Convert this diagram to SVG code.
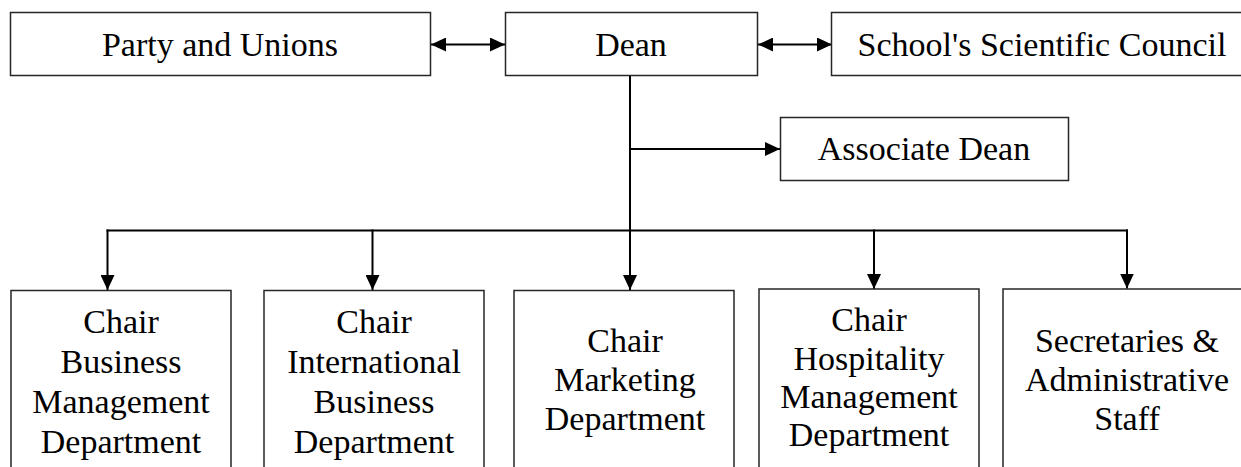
<svg xmlns="http://www.w3.org/2000/svg" width="1241" height="467" viewBox="0 0 1241 467">
  <defs>
    <marker id="ah" markerUnits="userSpaceOnUse" markerWidth="15" markerHeight="14" refX="15" refY="7" orient="auto-start-reverse">
      <path d="M0,0 L15,7 L0,14 z" fill="#000000"/>
    </marker>
  </defs>
  <rect x="0" y="0" width="1241" height="467" fill="#ffffff"/>

  <g id="connectors" fill="none" stroke="#000000" stroke-width="2">
    <line marker-start="url(#ah)" marker-end="url(#ah)" x1="431" y1="44.5" x2="505" y2="44.5"/>
    <line marker-start="url(#ah)" marker-end="url(#ah)" x1="758" y1="44.5" x2="832" y2="44.5"/>
    <line x1="630" y1="76" x2="630" y2="230.5"/>
    <line marker-end="url(#ah)" x1="630" y1="149" x2="780" y2="149"/>
    <line x1="106.5" y1="230.5" x2="1128" y2="230.5"/>
    <line marker-end="url(#ah)" x1="107.5" y1="229.5" x2="107.5" y2="290"/>
    <line marker-end="url(#ah)" x1="372.5" y1="229.5" x2="372.5" y2="290"/>
    <line marker-end="url(#ah)" x1="630" y1="229.5" x2="630" y2="290"/>
    <line marker-end="url(#ah)" x1="874" y1="229.5" x2="874" y2="289"/>
    <line marker-end="url(#ah)" x1="1127" y1="229.5" x2="1127" y2="288.5"/>
  </g>

  <g id="nodes" font-family="Times New Roman, Liberation Serif, serif" font-size="34" text-anchor="middle" fill="#000000">
  <g id="party">
    <rect fill="#ffffff" stroke="#262626" stroke-width="1.5" x="10.5" y="12.5" width="420" height="63"/>
    <text x="220" y="56">Party and Unions</text>
  </g>
  <g id="dean">
    <rect fill="#ffffff" stroke="#262626" stroke-width="1.5" x="505.5" y="12.5" width="252" height="63"/>
    <text x="631" y="56">Dean</text>
  </g>
  <g id="council">
    <rect fill="#ffffff" stroke="#262626" stroke-width="1.5" x="831.5" y="12.5" width="420" height="63"/>
    <text x="1042" y="56">School's Scientific Council</text>
  </g>
  <g id="associate">
    <rect fill="#ffffff" stroke="#262626" stroke-width="1.5" x="780.5" y="117.5" width="288" height="63"/>
    <text x="924" y="160">Associate Dean</text>
  </g>
  <g id="chair-bm">
    <rect fill="#ffffff" stroke="#262626" stroke-width="1.5" x="11" y="290.5" width="220" height="200"/>
    <text x="121" y="333">Chair</text>
    <text x="121" y="373">Business</text>
    <text x="121" y="413">Management</text>
    <text x="121" y="453">Department</text>
  </g>
  <g id="chair-ib">
    <rect fill="#ffffff" stroke="#262626" stroke-width="1.5" x="264" y="290.5" width="220" height="200"/>
    <text x="374" y="333">Chair</text>
    <text x="374" y="373">International</text>
    <text x="374" y="413">Business</text>
    <text x="374" y="453">Department</text>
  </g>
  <g id="chair-mk">
    <rect fill="#ffffff" stroke="#262626" stroke-width="1.5" x="514" y="290.5" width="220" height="200"/>
    <text x="625" y="352">Chair</text>
    <text x="625" y="391">Marketing</text>
    <text x="625" y="430">Department</text>
  </g>
  <g id="chair-hm">
    <rect fill="#ffffff" stroke="#262626" stroke-width="1.5" x="759" y="289" width="220" height="200"/>
    <text x="869" y="331">Chair</text>
    <text x="869" y="369.5">Hospitality</text>
    <text x="869" y="408">Management</text>
    <text x="869" y="446">Department</text>
  </g>
  <g id="staff">
    <rect fill="#ffffff" stroke="#262626" stroke-width="1.5" x="1003" y="289" width="250" height="200"/>
    <text x="1127" y="352">Secretaries &amp;</text>
    <text x="1127" y="391">Administrative</text>
    <text x="1127" y="430">Staff</text>
  </g>
  </g>
</svg>
